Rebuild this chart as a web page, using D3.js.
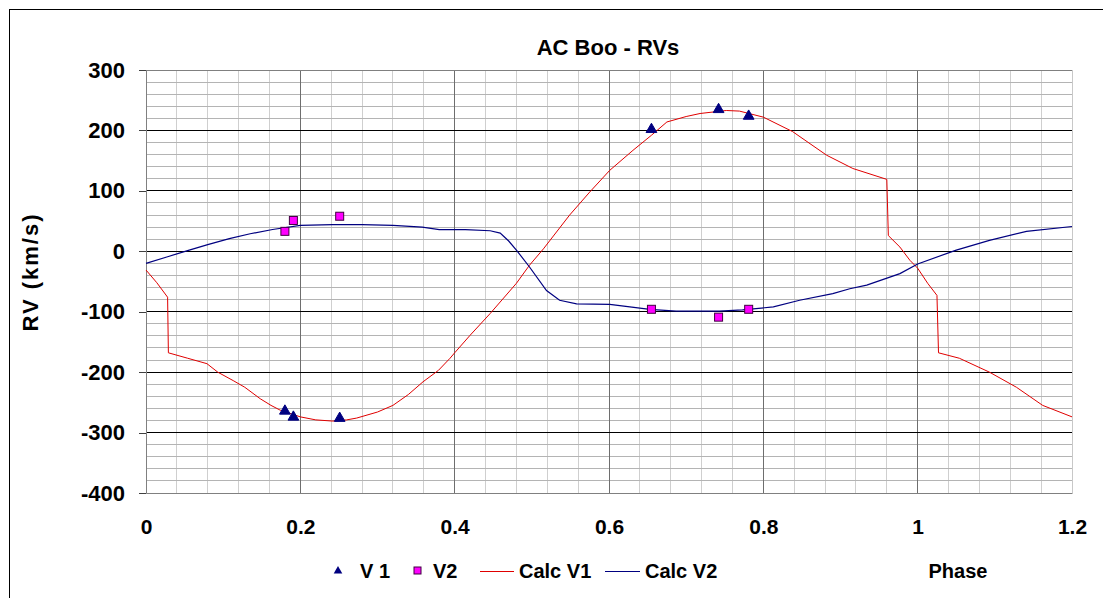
<!DOCTYPE html>
<html>
<head>
<meta charset="utf-8">
<script src="https://cdn.jsdelivr.net/npm/d3@7"></script>
<style>
    body { margin: 0; background: #fff; }
    text { font-family: "Liberation Sans", Arial, sans-serif; font-weight: bold; fill: #000; }
</style>
</head>
<body>
<svg id="chart" width="1103" height="598"></svg>
<script>
// observed radial velocities
var obsPhase = [0.180, 0.191, 0.251, 0.655, 0.742, 0.781];
var obsV1 = [-266, -276, -278, 200, 233, 222];
var obsV2 = [33, 51, 58, -96, -109, -96];

// model curves
var calcV1Phase = [0, 0.014, 0.028, 0.029, 0.054, 0.079, 0.093, 0.113, 0.128, 0.148, 0.162, 0.174, 0.2, 0.22, 0.242, 0.26, 0.273, 0.3, 0.32, 0.34, 0.359, 0.379, 0.394, 0.4, 0.42, 0.446, 0.48, 0.497, 0.515, 0.549, 0.575, 0.601, 0.631, 0.655, 0.675, 0.7, 0.718, 0.752, 0.769, 0.8, 0.838, 0.882, 0.916, 0.96, 0.962, 0.977, 0.99, 1.0, 1.013, 1.025, 1.027, 1.054, 1.093, 1.128, 1.162, 1.2];
var calcV1 = [-31, -52, -76, -168, -177, -186, -200, -214, -225, -244, -255, -263, -274, -279, -281, -279, -276, -266, -255, -237, -216, -197, -177, -168, -139, -103, -53, -23, 4, 60, 98, 134, 167, 192, 214, 223, 228, 233, 232, 222, 198, 159, 137, 119, 26, 7, -15, -28, -53, -73, -168, -177, -200, -225, -255, -274];

var calcV2Phase = [0, 0.028, 0.056, 0.08, 0.108, 0.135, 0.164, 0.2, 0.242, 0.28, 0.32, 0.358, 0.38, 0.414, 0.446, 0.459, 0.47, 0.48, 0.497, 0.519, 0.536, 0.558, 0.601, 0.627, 0.653, 0.687, 0.743, 0.773, 0.813, 0.847, 0.89, 0.912, 0.934, 0.977, 1.0, 1.05, 1.093, 1.141, 1.2];
var calcV2 = [-20, -9, 2, 11, 21, 29, 36, 43, 44, 44, 43, 40, 36, 36, 34, 30, 17, 2, -26, -65, -81, -87, -88, -92, -96, -99, -99, -97, -92, -81, -70, -62, -56, -37, -21, 2, 18, 33, 41];

var xTicks = [0, 0.2, 0.4, 0.6, 0.8, 1, 1.2];
var yTicks = [300, 200, 100, 0, -100, -200, -300, -400];

(function () {

    var svg = d3.select('#chart'),
        left = 146, right = 1072, top = 70, bottom = 493;

    var x = d3.scaleLinear().domain([0, 1.2]).range([left, right]),
        y = d3.scaleLinear().domain([-400, 300]).range([bottom, top]);

    svg.append("rect")
        .attr("x", 9.5).attr("y", 9.5)
        .attr("width", 1110).attr("height", 620)
        .attr("fill", "none").attr("stroke", "#000");

    var grid = svg.append("g").attr("shape-rendering", "crispEdges");

    // minor grid
    grid.selectAll("line.vminor")
        .data(d3.range(1, 30).filter(function (i) { return i % 5 !== 0; }))
        .enter().append("line")
            .attr("x1", function (i) { return x(i * 0.04); })
            .attr("x2", function (i) { return x(i * 0.04); })
            .attr("y1", top).attr("y2", bottom)
            .attr("stroke", "#cfcfcf");

    grid.selectAll("line.hminor")
        .data(d3.range(-400, 300, 20).filter(function (v) { return v % 100 !== 0; }))
        .enter().append("line")
            .attr("x1", left).attr("x2", right)
            .attr("y1", function (v) { return y(v); })
            .attr("y2", function (v) { return y(v); })
            .attr("stroke", "#b4b4b4");

    // major grid
    grid.selectAll("line.vmajor")
        .data(xTicks.slice(1, -1))
        .enter().append("line")
            .attr("x1", function (d) { return x(d); })
            .attr("x2", function (d) { return x(d); })
            .attr("y1", top).attr("y2", bottom)
            .attr("stroke", "#6e6e6e");

    grid.selectAll("line.hmajor")
        .data(yTicks.slice(1, -1))
        .enter().append("line")
            .attr("x1", left).attr("x2", right)
            .attr("y1", function (d) { return y(d); })
            .attr("y2", function (d) { return y(d); })
            .attr("stroke", "#000");

    grid.append("line")
        .attr("x1", left).attr("x2", right).attr("y1", top).attr("y2", top)
        .attr("stroke", "#808080");
    grid.append("line")
        .attr("x1", right).attr("x2", right).attr("y1", top).attr("y2", bottom)
        .attr("stroke", "#c8c8c8");

    // axes
    var yAxis = d3.axisLeft(y).tickValues(yTicks).tickSize(7).tickPadding(14)
        .tickFormat(function (d) { return String(d); });
    svg.append("g")
        .attr("transform", "translate(" + left + ",0)")
        .call(yAxis)
        .call(function (g) {
            g.select(".domain").attr("stroke", "#808080");
            g.selectAll(".tick line").attr("stroke", "#404040").attr("shape-rendering", "crispEdges");
            g.selectAll(".tick text").attr("font-size", 22).attr("font-family", null);
        });

    var xAxis = d3.axisBottom(x).tickValues(xTicks).tickSize(0).tickPadding(26)
        .tickFormat(function (d) { return String(d); });
    svg.append("g")
        .attr("transform", "translate(0," + bottom + ")")
        .call(xAxis)
        .call(function (g) {
            g.select(".domain").attr("stroke", "#808080");
            g.selectAll(".tick text").attr("font-size", 21).attr("font-family", null);
        });

    // curves
    var line = d3.line()
        .x(function (d) { return x(d[0]); })
        .y(function (d) { return y(d[1]); });

    svg.append("path")
        .attr("d", line(d3.zip(calcV1Phase, calcV1)))
        .attr("fill", "none").attr("stroke", "#e00000").attr("stroke-width", 1);

    svg.append("path")
        .attr("d", line(d3.zip(calcV2Phase, calcV2)))
        .attr("fill", "none").attr("stroke", "#000080").attr("stroke-width", 1.2);

    // observed points
    var tri = d3.symbol().type(d3.symbolTriangle).size(50);
    svg.selectAll("path.v1")
        .data(d3.zip(obsPhase, obsV1))
        .enter().append("path")
            .attr("transform", function (d) { return "translate(" + x(d[0]) + "," + (y(d[1]) - 1) + ")"; })
            .attr("d", tri)
            .attr("fill", "#000080").attr("stroke", "#000080");

    svg.selectAll("rect.v2")
        .data(d3.zip(obsPhase, obsV2))
        .enter().append("rect")
            .attr("x", function (d) { return x(d[0]) - 4; })
            .attr("y", function (d) { return y(d[1]) - 4; })
            .attr("width", 8).attr("height", 8)
            .attr("fill", "#ff00ff").attr("stroke", "#400040");

    // labels
    svg.append("text")
        .attr("x", 608).attr("y", 55)
        .attr("text-anchor", "middle").attr("font-size", 22)
        .text("AC Boo - RVs");

    svg.append("text")
        .attr("transform", "translate(38,272) rotate(-90)")
        .attr("text-anchor", "middle").attr("font-size", 22)
        .attr("letter-spacing", 2)
        .text("RV  (km/s)");

    svg.append("text")
        .attr("x", 958).attr("y", 578)
        .attr("text-anchor", "middle").attr("font-size", 20)
        .text("Phase");

    // legend
    var lg = svg.append("g");
    lg.append("path")
        .attr("transform", "translate(338,571)")
        .attr("d", d3.symbol().type(d3.symbolTriangle).size(32))
        .attr("fill", "#000080");
    lg.append("text").attr("x", 360).attr("y", 578).attr("font-size", 20).text("V 1");
    lg.append("rect")
        .attr("x", 414).attr("y", 567).attr("width", 7).attr("height", 7)
        .attr("fill", "#ff00ff").attr("stroke", "#400040");
    lg.append("text").attr("x", 433).attr("y", 578).attr("font-size", 20).text("V2");
    lg.append("line")
        .attr("x1", 480).attr("x2", 514).attr("y1", 571.5).attr("y2", 571.5)
        .attr("stroke", "#e00000");
    lg.append("text").attr("x", 519).attr("y", 578).attr("font-size", 20).text("Calc V1");
    lg.append("line")
        .attr("x1", 605).attr("x2", 640).attr("y1", 571.5).attr("y2", 571.5)
        .attr("stroke", "#000080");
    lg.append("text").attr("x", 645).attr("y", 578).attr("font-size", 20).text("Calc V2");

}());
</script>
</body>
</html>
